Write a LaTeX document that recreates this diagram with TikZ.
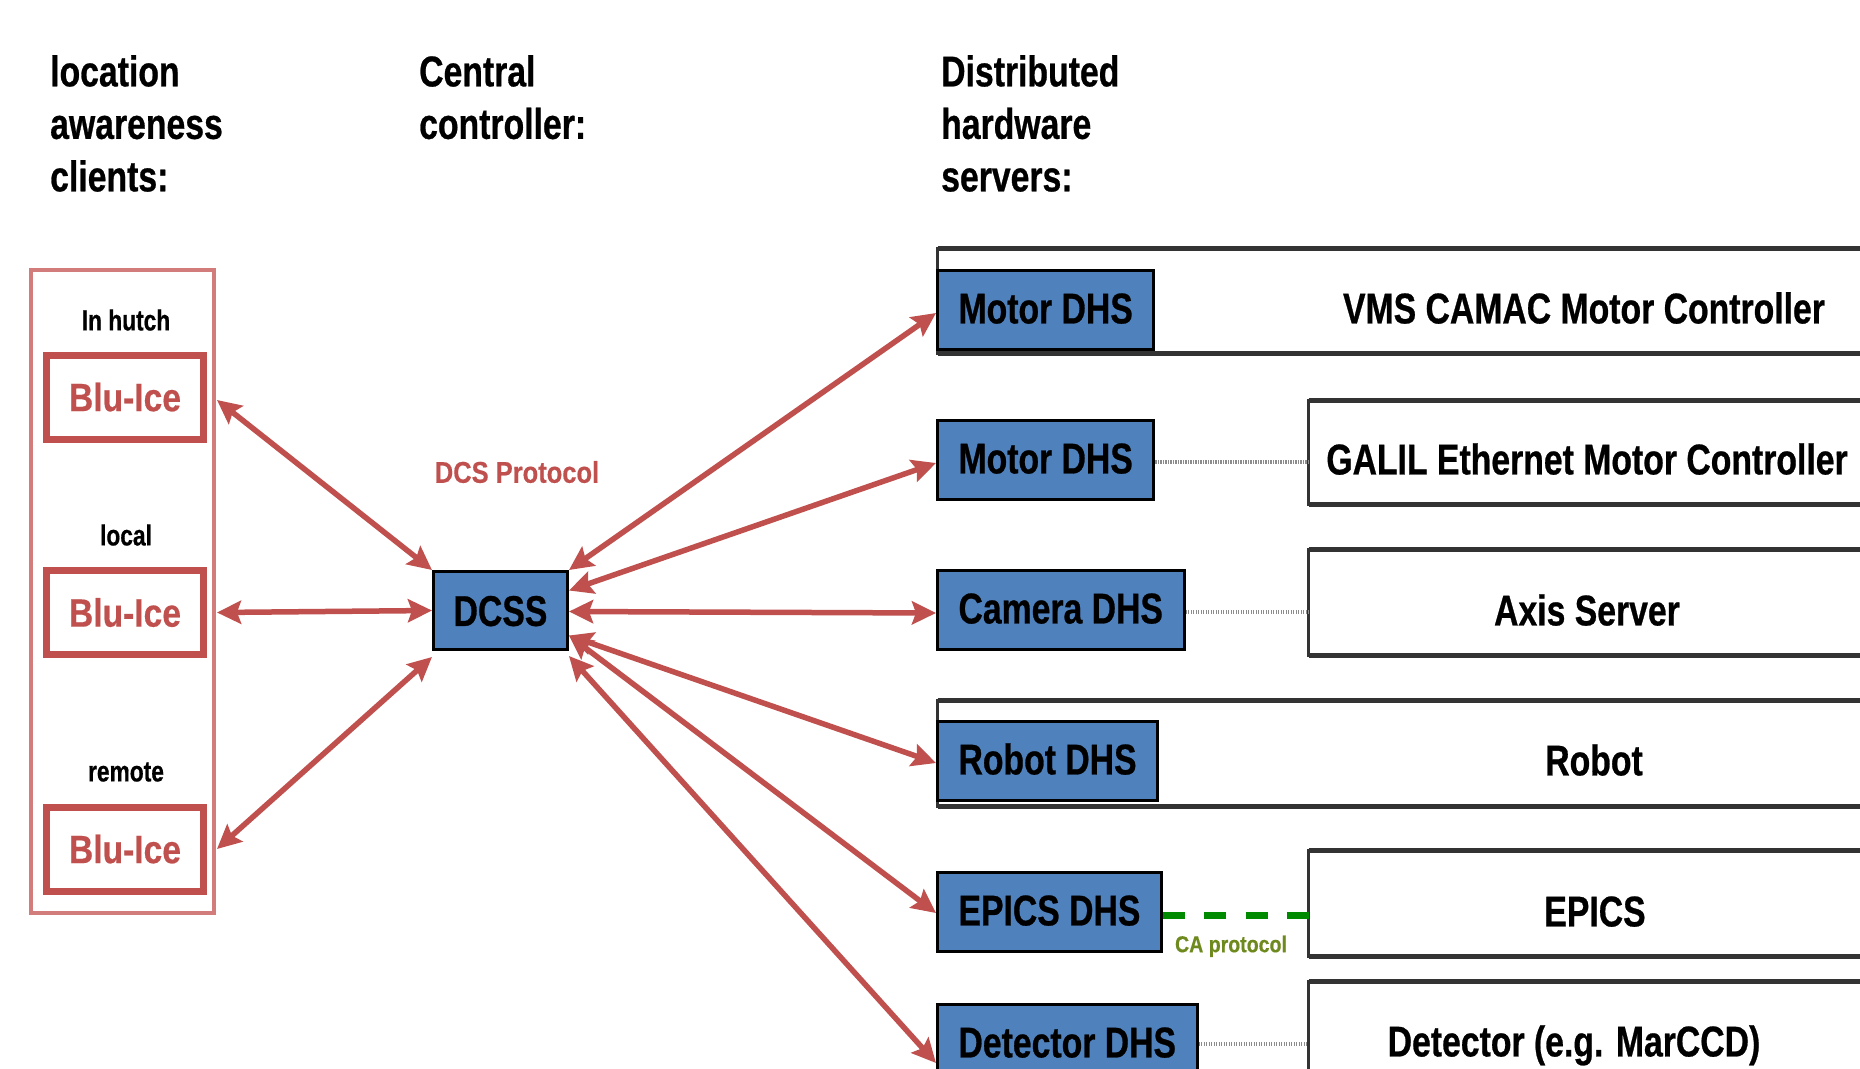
\documentclass[tikz,border=0pt]{standalone}
\usepackage{fontspec}
\setmainfont{Liberation Sans}
\newfontfamily\condA{Liberation Sans}[FakeStretch=0.785,FakeBold=0.6]
\newfontfamily\condB{Liberation Sans}[FakeStretch=0.85,FakeBold=0.4]
\usetikzlibrary{arrows.meta,calc}
\definecolor{arrred}{HTML}{C0504D}
\definecolor{framered}{HTML}{D27C7B}
\definecolor{dhsblue}{HTML}{4F81BD}
\definecolor{dashgreen}{HTML}{008A00}
\definecolor{olivetxt}{HTML}{6E8A1E}
\definecolor{boxgray}{HTML}{333333}
\newcommand{\bigfont}{\condA\bfseries\fontsize{43}{52.5}\selectfont}
\begin{document}
\begin{tikzpicture}[x=1pt,y=-1pt,
  hdr/.style={font=\bigfont, align=left, inner sep=0pt, anchor=north west},
  lbl/.style={font=\condA\bfseries\fontsize{29}{34}\selectfont, inner sep=0pt, text height=20.8pt, text depth=0pt},
  frm/.style={draw=framered, line width=4pt, inner sep=0pt},
  blu/.style={draw=arrred, line width=7pt, inner sep=0pt, minimum width=157pt, minimum height=84pt,
    text=arrred, font=\condB\bfseries\fontsize{39.5}{46}\selectfont, text height=28.3pt, text depth=0pt},
  dcssbox/.style={draw=black, line width=3pt, fill=dhsblue, inner sep=0pt, minimum width=134pt,
    minimum height=78pt, font=\bigfont, text height=30.8pt, text depth=0pt},
  dhs/.style={draw=black, line width=3pt, fill=dhsblue, inner xsep=21pt, inner ysep=0pt,
    minimum height=79pt, anchor=west, font=\bigfont, text height=30.8pt, text depth=4pt},
  obox/.style={draw=boxgray, line width=3pt, fill=white, anchor=west, inner sep=0pt, outer sep=0pt},
  hline/.style={draw=boxgray, line width=5.5pt},
  otext/.style={font=\bigfont, inner sep=0pt, text height=30.8pt, text depth=0pt},
  proto/.style={text=arrred, font=\condB\bfseries\fontsize{30}{36}\selectfont, inner sep=0pt,
    text height=21.5pt, text depth=0pt},
  catext/.style={text=olivetxt, font=\condB\bfseries\fontsize{23}{27}\selectfont, inner sep=0pt,
    text height=16.4pt, text depth=0pt},
  dotline/.style={draw=gray!90, line width=4pt, dash pattern=on 1.3pt off 1.2pt},
  greendash/.style={draw=dashgreen, line width=7pt, dash pattern=on 22pt off 19.3pt},
  arr/.style={draw=arrred, line width=5.5pt,
    {Stealth[length=24pt,width=23pt,inset=4pt]}-{Stealth[length=24pt,width=23pt,inset=4pt]}}
]
\useasboundingbox (0,0) rectangle (1860,1068);
\fill[white] (0,0) rectangle (1860,1068);
\clip (0,0) rectangle (1860,1068);

% headers
\node[hdr] (h1) at (50,55) {location\\awareness\\clients:};
\node[hdr] (h2) at (419,55) {Central\\controller:};
\node[hdr] (h3) at (941,55) {Distributed\\hardware\\servers:};

% clients
\node[frm, minimum width=183pt, minimum height=643pt] (frame) at (122.5,591.5) {};
\node[lbl] (lh) at (126,320) {In hutch};
\node[lbl] (ll) at (126,535) {local};
\node[lbl] (lr) at (126,771) {remote};
\node[blu] (b1) at (125,397) {Blu-Ice};
\node[blu] (b2) at (125,612.5) {Blu-Ice};
\node[blu] (b3) at (125,849) {Blu-Ice};

% central
\node[dcssbox] (dcss) at (500.5,610.5) {DCSS};
\node[proto] (dcsp) at (517,472) {DCS Protocol};

% outer server boxes
\node[obox, minimum width=962pt, minimum height=105pt] (o1) at (937.5,301) {};
\node[obox, minimum width=592pt, minimum height=104pt] (o2) at (1308.5,452.5) {};
\node[obox, minimum width=592pt, minimum height=106pt] (o3) at (1308.5,602.5) {};
\node[obox, minimum width=962pt, minimum height=106pt] (o4) at (937.5,753.5) {};
\node[obox, minimum width=592pt, minimum height=106pt] (o5) at (1308.5,903.5) {};
\node[obox, minimum width=592pt, minimum height=106pt] (o6) at (1308.5,1034.5) {};
\foreach \o in {o1,o2,o3,o4,o5,o6}{
  \draw[hline] (\o.north west) -- (\o.north east);
  \draw[hline] (\o.south west) -- (\o.south east);
}
\node[otext] (t1) at (1584,308) {VMS CAMAC Motor Controller};
\node[otext] (t2) at (1587,459) {GALIL Ethernet Motor Controller};
\node[otext] (t3) at (1587,610) {Axis Server};
\node[otext] (t4) at (1594,760) {Robot};
\node[otext] (t5) at (1595,911) {EPICS};
\node[otext] (t6) at (1574,1041) {Detector (e.g. MarCCD)};

% DHS boxes
\node[dhs] (m1) at (936,310) {Motor DHS};
\node[dhs] (m2) at (936,460) {Motor DHS};
\node[dhs] (cam) at (936,610) {Camera DHS};
\node[dhs] (rob) at (936,761) {Robot DHS};
\node[dhs] (ep) at (936,912) {EPICS DHS};
\node[dhs] (det) at (936,1044) {Detector DHS};

% server links
\draw[dotline] ([yshift=-2pt]m2.east) -- ([yshift=-2pt]m2.east -| o2.west);
\draw[dotline] ([yshift=-2pt]cam.east) -- ([yshift=-2pt]cam.east -| o3.west);
\draw[dotline] (det.east) -- (det.east -| o6.west);
\draw[greendash] ([yshift=-3pt]ep.east) -- ([yshift=-3pt]ep.east -| o5.west);
\node[catext] (ca) at (1231,944) {CA protocol};

% client arrows
\draw[arr] ([xshift=10pt,yshift=-3pt]b1.east) -- (dcss.north west);
\draw[arr] ([xshift=10pt]b2.east) -- (dcss.west);
\draw[arr] ([xshift=10pt]b3.east) -- ([yshift=-6pt]dcss.south west);

% server arrows
\draw[arr] (dcss.north east) -- ([yshift=-3pt]m1.west);
\draw[arr] ([yshift=20pt]dcss.east) -- ([yshift=-3pt]m2.west);
\draw[arr] ([yshift=-1pt]dcss.east) -- ([yshift=-3pt]cam.west);
\draw[arr] ([yshift=-25pt]dcss.east) -- ([yshift=-2pt]rob.west);
\draw[arr] ([yshift=-25pt]dcss.east) -- ([yshift=-1pt]ep.west);
\draw[arr] ([yshift=-5pt]dcss.south east) -- ([yshift=-19pt]det.west);
\end{tikzpicture}
\end{document}
